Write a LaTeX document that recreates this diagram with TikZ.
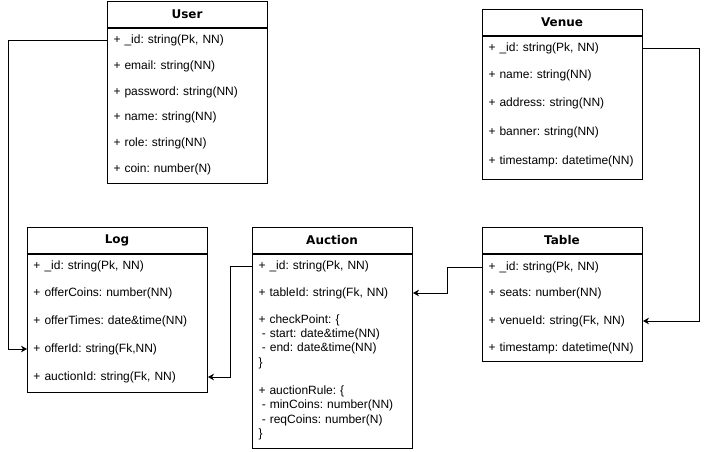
\documentclass[tikz,border=0pt]{standalone}
\usepackage{fontspec}
\setmainfont{Liberation Sans}
\newfontfamily\titlefont{DejaVu Sans}
\usetikzlibrary{positioning,arrows.meta}

\tikzset{
  every picture/.style={x=0.75pt,y=-0.75pt,line width=0.75pt},
  head/.style={draw, minimum width=#1, minimum height=19.5pt, inner sep=0pt,
    font=\titlefont\bfseries\fontsize{9}{11}\selectfont},
  head/.default=120pt,
  body/.style={draw, minimum width=#1, inner sep=0pt},
  body/.default=120pt,
  attr/.style={anchor=west, text width=#1, inner xsep=4.5pt, inner ysep=0pt,
    align=left, font=\frenchspacing\fontsize{9}{10.75}\selectfont},
  attr/.default=111pt,
  fk/.style={-{Stealth[length=4.5pt,width=5pt]}}
}

\begin{document}
\begin{tikzpicture}
  \useasboundingbox (0,0) rectangle (707,451);

  \node [head] (user) at (187,14) {User};
  \node [body, minimum height=116.25pt, below=0pt of user] (user-body) {};
  \node [attr] (user-id)       at (107,40)  {+ \_id: string(Pk, NN)};
  \node [attr] (user-email)    at (107,66)  {+ email: string(NN)};
  \node [attr] (user-password) at (107,92)  {+ password: string(NN)};
  \node [attr] (user-name)     at (107,117) {+ name: string(NN)};
  \node [attr] (user-role)     at (107,143) {+ role: string(NN)};
  \node [attr] (user-coin)     at (107,169) {+ coin: number(N)};

  \node [head] (venue) at (562,22) {Venue};
  \node [body, minimum height=107.25pt, below=0pt of venue] (venue-body) {};
  \node [attr] (venue-id)        at (482,48)  {+ \_id: string(Pk, NN)};
  \node [attr] (venue-name)      at (482,75)  {+ name: string(NN)};
  \node [attr] (venue-address)   at (482,103) {+ address: string(NN)};
  \node [attr] (venue-banner)    at (482,132) {+ banner: string(NN)};
  \node [attr] (venue-timestamp) at (482,161) {+ timestamp: datetime(NN)};

  \node [head=135pt] (log) at (117,240) {Log};
  \node [body=135pt, minimum height=103.5pt, below=0pt of log] (log-body) {};
  \node [attr=126pt] (log-id)         at (27,266) {+ \_id: string(Pk, NN)};
  \node [attr=126pt] (log-offercoins) at (27,293) {+ offerCoins: number(NN)};
  \node [attr=126pt] (log-offertimes) at (27,321) {+ offerTimes: date\&time(NN)};
  \node [attr=126pt] (log-offerid)    at (27,349) {+ offerId: string(Fk,NN)};
  \node [attr=126pt] (log-auctionid)  at (27,377) {+ auctionId: string(Fk, NN)};

  \node [head] (auction) at (332,240) {Auction};
  \node [body, minimum height=145.5pt, below=0pt of auction] (auction-body) {};
  \node [attr] (auction-id)      at (252,266) {+ \_id: string(Pk, NN)};
  \node [attr] (auction-tableid) at (252,293) {+ tableId: string(Fk, NN)};
  \node [attr] (auction-checkpoint) at (252,341.5)
    {+ checkPoint: \{\\\hspace*{2.5pt}- start: date\&time(NN)\\\hspace*{2.5pt}- end: date\&time(NN)\\\}};
  \node [attr] (auction-rule) at (252,413)
    {+ auctionRule: \{\\\hspace*{2.5pt}- minCoins: number(NN)\\\hspace*{2.5pt}- reqCoins: number(N)\\\}};

  \node [head] (table) at (562,240) {Table};
  \node [body, minimum height=80.25pt, below=0pt of table] (table-body) {};
  \node [attr] (table-id)        at (482,267) {+ \_id: string(Pk, NN)};
  \node [attr] (table-seats)     at (482,293) {+ seats: number(NN)};
  \node [attr] (table-venueid)   at (482,321) {+ venueId: string(Fk, NN)};
  \node [attr] (table-timestamp) at (482,348) {+ timestamp: datetime(NN)};

  \draw [fk] (user-id.west) -- ++(-99,0) |- (log-offerid.west);
  \draw [fk] (auction-id.west) -- ++(-22,0) |- (log-auctionid.east);
  \draw [fk] (table-id.west) -- ++(-35,0) |- (auction-tableid.east);
  \draw [fk] (venue-id.east) -- ++(56,0) |- (table-venueid.east);
\end{tikzpicture}
\end{document}
